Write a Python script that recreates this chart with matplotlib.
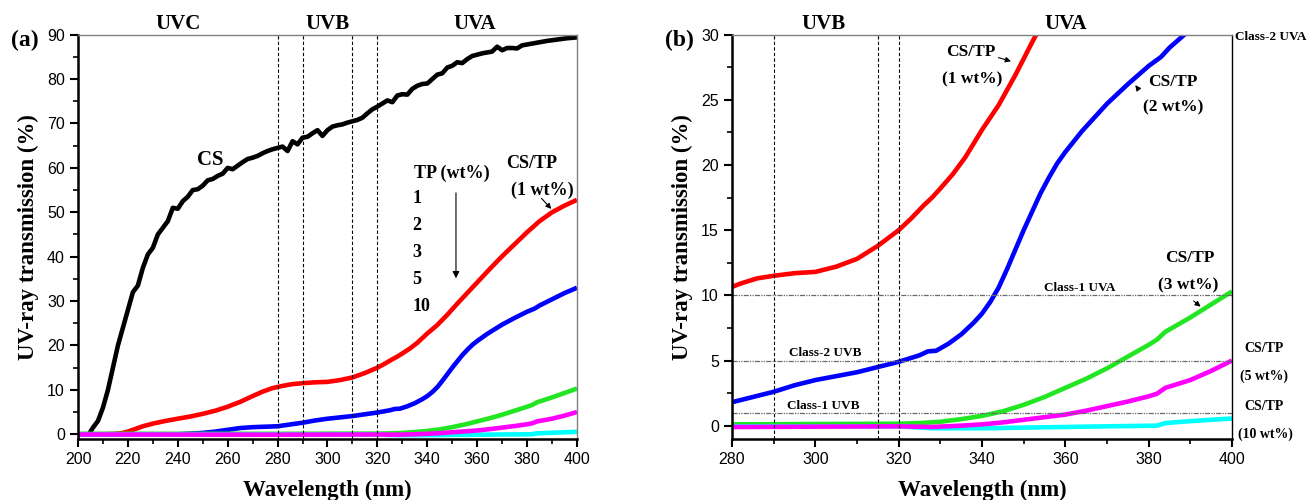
import matplotlib
matplotlib.use("Agg")
import matplotlib.pyplot as plt
from matplotlib.ticker import MultipleLocator

# CS film (black)
cs_wl = [204, 206, 208, 210, 212, 214, 216, 218, 220, 222, 224, 226, 228, 230, 232, 234,
         236, 238, 240, 242, 244, 246, 248, 250, 252, 254, 256, 258, 260, 262, 264, 266,
         268, 270, 272, 274, 276, 278, 280, 282, 284, 286, 288, 290, 292, 294, 296, 298,
         300, 302, 304, 306, 308, 310, 312, 314, 316, 318, 320, 322, 324, 326, 328, 330,
         332, 334, 336, 338, 340, 342, 344, 346, 348, 350, 352, 354, 356, 358, 360, 362,
         364, 366, 368, 370, 372, 374, 376, 378, 380, 384, 388, 392, 396, 400]
cs_t = [-0.3, 1.5, 3.0, 6.0, 10.0, 15.0, 20.0, 24.0, 28.0, 32.0, 33.5, 37.5, 40.5, 42.0, 45.0, 46.5,
        48.0, 51.0, 50.8, 52.5, 53.5, 55.0, 55.2, 56.0, 57.2, 57.5, 58.2, 58.7, 60.0, 59.7, 60.5, 61.3,
        62.0, 62.3, 62.7, 63.3, 63.8, 64.2, 64.5, 64.8, 63.8, 66.0, 65.3, 66.8, 67.0, 67.8, 68.5, 67.2,
        68.5, 69.3, 69.6, 69.8, 70.2, 70.5, 70.8, 71.3, 72.3, 73.2, 73.8, 74.5, 75.2, 74.8, 76.3, 76.6,
        76.5, 77.8, 78.5, 78.9, 79.0, 80.0, 81.0, 81.3, 82.6, 83.0, 83.8, 83.6, 84.5, 85.2, 85.5, 85.8,
        86.0, 86.2, 87.3, 86.5, 87.0, 87.0, 86.9, 87.6, 87.8, 88.2, 88.6, 88.9, 89.2, 89.4]

# CS/TP 1 wt% (red)
tp1_wl = [200, 210, 215, 218, 220, 223, 226, 230, 235, 240, 245, 250, 255, 260, 265, 270,
          274, 278, 282, 286, 290, 295, 300, 305, 310, 315, 320, 323, 326, 328, 330, 333,
          336, 340, 344, 348, 352, 356, 360, 365, 370, 375, 380, 385, 390, 395, 400]
tp1_t = [0.0, 0.0, 0.1, 0.3, 0.6, 1.2, 1.8, 2.4, 3.0, 3.5, 4.0, 4.6, 5.3, 6.2, 7.3, 8.6,
         9.6, 10.4, 10.9, 11.3, 11.5, 11.7, 11.8, 12.2, 12.8, 13.8, 15.0, 15.9, 16.9, 17.5, 18.2, 19.3,
         20.6, 22.7, 24.6, 26.9, 29.4, 31.8, 34.2, 37.2, 40.1, 42.8, 45.5, 48.0, 50.0, 51.5, 52.8]

# CS/TP 2 wt% (blue)
tp2_wl = [200, 240, 250, 255, 260, 265, 270, 275, 280, 285, 290, 295, 300, 305, 310, 315,
          320, 325, 327, 329, 332, 335, 338, 340, 342, 344, 346, 348, 350, 352, 354, 356,
          358, 360, 362, 364, 366, 368, 370, 375, 380, 383, 385, 390, 395, 400]
tp2_t = [0.0, 0.0, 0.3, 0.6, 1.0, 1.4, 1.6, 1.7, 1.8, 2.2, 2.6, 3.1, 3.5, 3.8, 4.1, 4.5,
         4.9, 5.4, 5.7, 5.75, 6.3, 7.0, 7.9, 8.6, 9.5, 10.6, 12.0, 13.5, 15.0, 16.4, 17.8, 19.0,
         20.1, 21.0, 21.8, 22.6, 23.3, 24.0, 24.7, 26.2, 27.6, 28.3, 29.0, 30.4, 31.8, 33.0]

# CS/TP 3 wt% (green)
tp3_wl = [200, 280, 320, 325, 330, 335, 340, 345, 350, 355, 360, 365, 370, 375, 380, 382,
          384, 390, 395, 400]
tp3_t = [0.1, 0.1, 0.15, 0.2, 0.3, 0.5, 0.75, 1.1, 1.6, 2.2, 2.9, 3.6, 4.4, 5.3, 6.2, 6.6,
         7.2, 8.3, 9.3, 10.3]

# CS/TP 5 wt% (magenta)
tp5_wl = [200, 280, 320, 328, 335, 340, 345, 350, 355, 360, 365, 370, 375, 380, 382, 384,
          390, 395, 400]
tp5_t = [-0.05, -0.1, -0.05, -0.1, 0.0, 0.1, 0.25, 0.45, 0.65, 0.85, 1.15, 1.5, 1.85, 2.25, 2.45, 2.9,
         3.5, 4.2, 5.0]

# CS/TP 10 wt% (cyan)
tp10_wl = [200, 280, 320, 328, 340, 360, 370, 382, 384, 390, 395, 400]
tp10_t = [-0.05, -0.05, -0.05, -0.2, -0.2, -0.1, -0.05, 0.0, 0.2, 0.35, 0.45, 0.55]

series = [
    (cs_wl, cs_t, "black"),
    (tp1_wl, tp1_t, "#ff0000"),
    (tp2_wl, tp2_t, "#0000ff"),
    (tp3_wl, tp3_t, "#22e622"),
    (tp10_wl, tp10_t, "#00ffff"),
    (tp5_wl, tp5_t, "#ff00ff"),
]

tp_list = ["1", "2", "3", "5", "10"]

serif = "Liberation Serif"
plt.rcParams["font.family"] = "Liberation Sans"
plt.rcParams["xtick.labelsize"] = 11.5
plt.rcParams["ytick.labelsize"] = 11.5

fig = plt.figure(figsize=(13.11, 5.0), dpi=100)
ax1 = fig.add_axes([0.0595, 0.1226, 0.3806, 0.808])
ax2 = fig.add_axes([0.5584, 0.1226, 0.3813, 0.808])


def style_axes(ax, right_color):
    ax.spines["left"].set_linewidth(1.8)
    ax.spines["bottom"].set_linewidth(1.8)
    ax.spines["top"].set_color("gray")
    ax.spines["top"].set_linewidth(1.0)
    ax.spines["right"].set_color(right_color)
    ax.spines["right"].set_linewidth(1.0)
    ax.tick_params(which="both", direction="out", top=False, right=False)
    ax.tick_params(which="major", length=6, width=1.5)
    ax.tick_params(which="minor", length=3.5, width=1.2)
    ax.set_xlabel("Wavelength (nm)", family=serif, weight="bold", fontsize=16.5, labelpad=9)
    ax.set_ylabel("UV-ray transmission (%)", family=serif, weight="bold", fontsize=16.5, labelpad=6)


# ---- panel (a)
for wl, t, c in series:
    ax1.plot(wl, t, color=c, lw=3.3, solid_capstyle="butt", solid_joinstyle="round")
for xv in [280, 290, 310, 320]:
    ax1.axvline(xv, color="black", ls=(0, (3, 2)), lw=0.8)
ax1.set_xlim(200, 400)
ax1.set_ylim(-1, 90)
ax1.xaxis.set_major_locator(MultipleLocator(20))
ax1.xaxis.set_minor_locator(MultipleLocator(10))
ax1.yaxis.set_major_locator(MultipleLocator(10))
ax1.yaxis.set_minor_locator(MultipleLocator(5))
style_axes(ax1, "gray")

bold = dict(family=serif, weight="bold")
for lab, xv in [("UVC", 240), ("UVB", 300), ("UVA", 359)]:
    ax1.text(xv, 92.5, lab, ha="center", va="center", fontsize=15, clip_on=False, **bold)
ax1.text(-0.135, 0.985, "(a)", transform=ax1.transAxes, ha="left", va="center", fontsize=17, **bold)
ax1.text(253, 61.7, "CS", ha="center", va="center", fontsize=15, **bold)
ax1.text(350, 58.8, "TP (wt%)", ha="center", va="center", fontsize=13, **bold)
for i, lab in enumerate(tp_list):
    ax1.text(334, 53.2 - 6.1 * i, lab, ha="left", va="center", fontsize=13, **bold)
ax1.annotate("", xy=(351.5, 34.5), xytext=(351.5, 55.0),
             arrowprops=dict(arrowstyle="-|>", color="black", lw=0.8, mutation_scale=10))
ax1.text(382, 61, "CS/TP", ha="center", va="center", fontsize=13, **bold)
ax1.text(386, 55, "(1 wt%)", ha="center", va="center", fontsize=13, **bold)
ax1.annotate("", xy=(390.5, 50.3), xytext=(385, 53.6),
             arrowprops=dict(arrowstyle="-|>", color="black", lw=0.8, mutation_scale=8))

# ---- panel (b)
for wl, t, c in series:
    ax2.plot(wl, t, color=c, lw=3.3, solid_capstyle="butt", solid_joinstyle="round")
for xv in [290, 315, 320]:
    ax2.axvline(xv, color="black", ls=(0, (3, 2)), lw=0.8)
for yv in [10, 5, 1]:
    ax2.axhline(yv, color="dimgray", ls=(0, (4, 1, 1, 1, 1, 1)), lw=0.9)
ax2.set_xlim(280, 400)
ax2.set_ylim(-1, 30)
ax2.xaxis.set_major_locator(MultipleLocator(20))
ax2.xaxis.set_minor_locator(MultipleLocator(10))
ax2.yaxis.set_major_locator(MultipleLocator(5))
ax2.yaxis.set_minor_locator(MultipleLocator(2.5))
style_axes(ax2, "black")

for lab, xv in [("UVB", 302), ("UVA", 360)]:
    ax2.text(xv, 30.8, lab, ha="center", va="center", fontsize=15, clip_on=False, **bold)
ax2.text(-0.135, 0.985, "(b)", transform=ax2.transAxes, ha="left", va="center", fontsize=17, **bold)

ax2.text(337.4, 28.7, "CS/TP", ha="center", va="center", fontsize=12.5, **bold)
ax2.text(337.7, 26.6, "(1 wt%)", ha="center", va="center", fontsize=12.5, **bold)
ax2.annotate("", xy=(347.6, 27.9), xytext=(343.3, 28.3),
             arrowprops=dict(arrowstyle="-|>", color="black", lw=0.8, mutation_scale=8))
ax2.text(385.8, 26.4, "CS/TP", ha="center", va="center", fontsize=12.5, **bold)
ax2.text(385.8, 24.4, "(2 wt%)", ha="center", va="center", fontsize=12.5, **bold)
ax2.annotate("", xy=(376.4, 26.3), xytext=(377.8, 25.7),
             arrowprops=dict(arrowstyle="-|>", color="black", lw=0.8, mutation_scale=8))
ax2.text(389.9, 12.9, "CS/TP", ha="center", va="center", fontsize=12.5, **bold)
ax2.text(389.4, 10.8, "(3 wt%)", ha="center", va="center", fontsize=12.5, **bold)
ax2.annotate("", xy=(393.0, 9.0), xytext=(390.3, 9.7),
             arrowprops=dict(arrowstyle="-|>", color="black", lw=0.8, mutation_scale=8))
for lab, xv, yv in [("CS/TP", 407.6, 5.9), ("(5 wt%)", 407.6, 3.77),
                    ("CS/TP", 407.6, 1.5), ("(10 wt%)", 408, -0.64)]:
    ax2.text(xv, yv, lab, ha="center", va="center", fontsize=10, clip_on=False, **bold)
ax2.text(400.8, 29.8, "Class-2 UVA", ha="left", va="center", fontsize=9.5, clip_on=False, **bold)
ax2.text(363.5, 10.55, "Class-1 UVA", ha="center", va="center", fontsize=9.5, **bold)
ax2.text(302.3, 5.55, "Class-2 UVB", ha="center", va="center", fontsize=9.5, **bold)
ax2.text(301.8, 1.5, "Class-1 UVB", ha="center", va="center", fontsize=9.5, **bold)

fig.savefig("out.png", dpi=100)
